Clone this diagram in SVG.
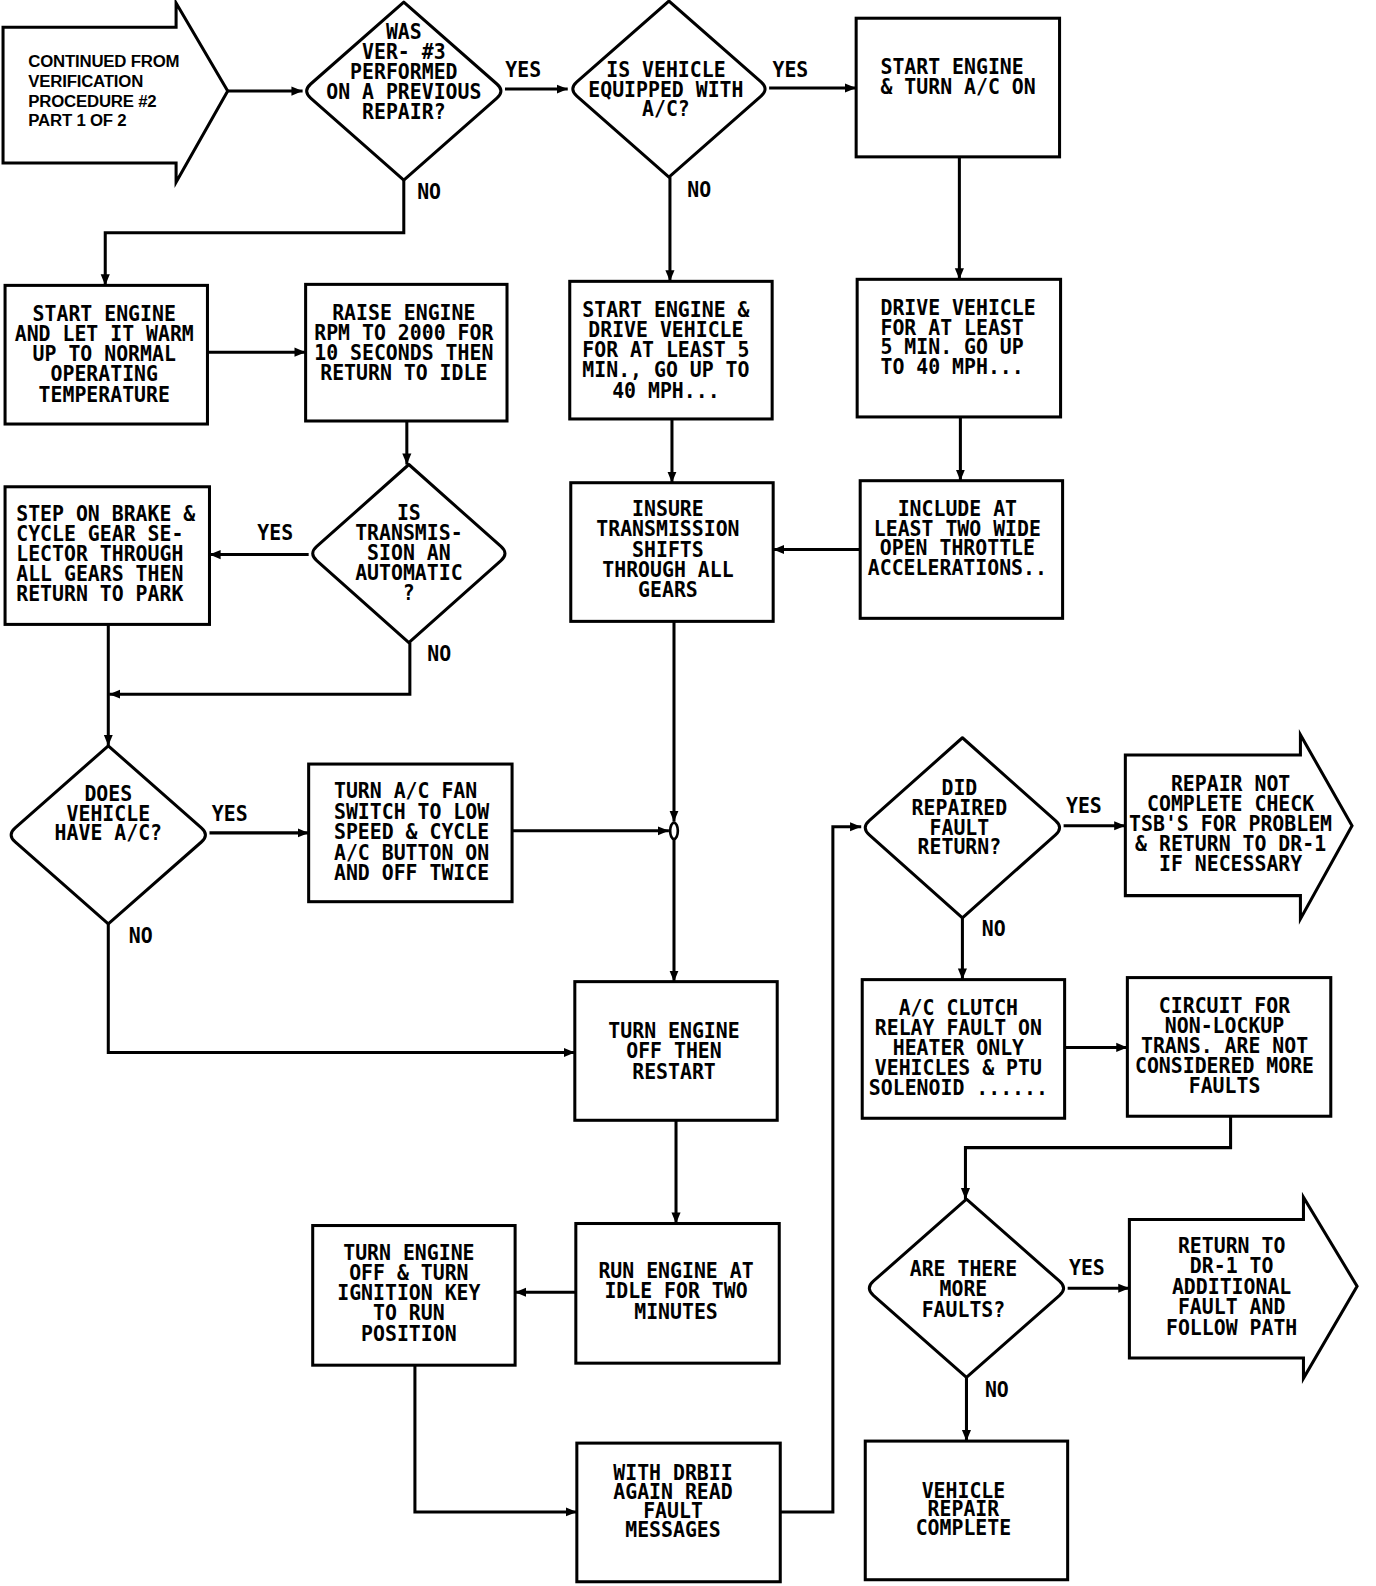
<svg xmlns="http://www.w3.org/2000/svg" width="1376" height="1586" viewBox="0 0 1376 1586">
<defs>
<style>
.box{fill:#fff;stroke:#000;stroke-width:3;stroke-linejoin:miter}
.dia{fill:#fff;stroke:#000;stroke-width:3;stroke-linejoin:round}
.ln{fill:none;stroke:#000;stroke-width:3;marker-end:url(#ah)}
.t{font-family:"DejaVu Sans Mono","Liberation Mono",monospace;font-size:19.6px;font-weight:bold;fill:#000}
.m{text-anchor:middle}
.s{font-family:"Liberation Sans",Arial,sans-serif;font-size:16.6px;font-weight:bold;fill:#000;letter-spacing:-0.2px}
</style>
<marker id="ah" markerUnits="userSpaceOnUse" markerWidth="12" markerHeight="10" refX="11" refY="5" orient="auto">
<path d="M0,0.5 L11,5 L0,9.5 Z" fill="#000"/>
</marker>
</defs>
<rect width="1376" height="1586" fill="#fff"/>
<g transform="scale(1.012)">

<g id="connectors">
<path class="ln" d="M225,90 H299"/>
<path class="ln" d="M499,88 H561"/>
<path class="ln" d="M760,87 H846"/>
<path class="ln" d="M948,155 V276"/>
<path class="ln" d="M949,412 V475"/>
<path class="ln" d="M850,543 H764"/>
<path class="ln" d="M662,175 V278"/>
<path class="ln" d="M664,414 V477"/>
<path class="ln" d="M666,614 V812"/>
<path class="ln" d="M666,830 V970"/>
<path class="ln" d="M506,821 H661"/>
<path class="ln" d="M399,178 V230 H104 V282"/>
<path class="ln" d="M205,348 H302"/>
<path class="ln" d="M402,416 V459"/>
<path class="ln" d="M305,548 H207"/>
<path class="ln" d="M405,635 V686 H108"/>
<path class="ln" d="M107,617 V737"/>
<path class="ln" d="M207,823 H305"/>
<path class="ln" d="M107,913 V1040 H568"/>
<path class="ln" d="M668,1107 V1209"/>
<path class="ln" d="M569,1277 H509"/>
<path class="ln" d="M410,1349 V1494 H570"/>
<path class="ln" d="M771,1494 H823 V817 H851"/>
<path class="ln" d="M1051,816 H1112"/>
<path class="ln" d="M951,907 V968"/>
<path class="ln" d="M1052,1035 H1114"/>
<path class="ln" d="M1216,1103 V1134 H954 V1185"/>
<path class="ln" d="M1055,1273 H1116"/>
<path class="ln" d="M955,1361 V1424"/>
<ellipse cx="666" cy="821" rx="3.8" ry="8" fill="#fff" stroke="#000" stroke-width="2.6"/>
<g transform="translate(517,75.9) scale(1,1.1)"><text class="t m">YES</text></g>
<g transform="translate(781,75.9) scale(1,1.1)"><text class="t m">YES</text></g>
<g transform="translate(424,196.9) scale(1,1.1)"><text class="t m">NO</text></g>
<g transform="translate(691,194.9) scale(1,1.1)"><text class="t m">NO</text></g>
<g transform="translate(272,533.9) scale(1,1.1)"><text class="t m">YES</text></g>
<g transform="translate(434,652.9) scale(1,1.1)"><text class="t m">NO</text></g>
<g transform="translate(227,810.9) scale(1,1.1)"><text class="t m">YES</text></g>
<g transform="translate(139,931.9) scale(1,1.1)"><text class="t m">NO</text></g>
<g transform="translate(1071,802.9) scale(1,1.1)"><text class="t m">YES</text></g>
<g transform="translate(982,924.9) scale(1,1.1)"><text class="t m">NO</text></g>
<g transform="translate(1074,1259.9) scale(1,1.1)"><text class="t m">YES</text></g>
<g transform="translate(985,1380.9) scale(1,1.1)"><text class="t m">NO</text></g>
</g>

<g id="start">
<path class="box" d="M3,27 H174 V3 L225,90 L174,180 V161 H3 Z"/>
<text class="s" x="28" y="66">CONTINUED FROM</text>
<text class="s" x="28" y="86">VERIFICATION</text>
<text class="s" x="28" y="106">PROCEDURE #2</text>
<text class="s" x="28" y="125">PART 1 OF 2</text>
</g>

<g id="d1">
<path class="dia" d="M399,2 L491,83 Q499,90 491,97 L399,178 L307,97 Q299,90 307,83 Z"/>
<text class="t m" transform="translate(399,38.9) scale(1,1.1)"><tspan x="0" y="0">WAS</tspan><tspan x="0" y="17.8">VER- #3</tspan><tspan x="0" y="35.6">PERFORMED</tspan><tspan x="0" y="53.4">ON A PREVIOUS</tspan><tspan x="0" y="71.2">REPAIR?</tspan></text>
</g>

<g id="d2">
<path class="dia" d="M661,1 L752,81 Q760,88 752,95 L661,175 L570,95 Q562,88 570,81 Z"/>
<text class="t m" transform="translate(658,75.9) scale(1,1.1)"><tspan x="0" y="0">IS VEHICLE</tspan><tspan x="0" y="17.7">EQUIPPED WITH</tspan><tspan x="0" y="35.5">A/C?</tspan></text>
</g>

<g id="b3">
<rect class="box" x="846" y="18" width="201" height="137"/>
<text class="t" transform="translate(870,72.9) scale(1,1.1)"><tspan x="0" y="0">START ENGINE</tspan><tspan x="0" y="18.2">&amp; TURN A/C ON</tspan></text>
</g>

<g id="b4">
<rect class="box" x="5" y="282" width="200" height="137"/>
<text class="t m" transform="translate(103,316.9) scale(1,1.1)"><tspan x="0" y="0">START ENGINE</tspan><tspan x="0" y="18.2">AND LET IT WARM</tspan><tspan x="0" y="36.4">UP TO NORMAL</tspan><tspan x="0" y="54.5">OPERATING</tspan><tspan x="0" y="72.7">TEMPERATURE</tspan></text>
</g>

<g id="b5">
<rect class="box" x="302" y="281" width="199" height="135"/>
<text class="t m" transform="translate(399,315.9) scale(1,1.1)"><tspan x="0" y="0">RAISE ENGINE</tspan><tspan x="0" y="18.2">RPM TO 2000 FOR</tspan><tspan x="0" y="36.4">10 SECONDS THEN</tspan><tspan x="0" y="54.5">RETURN TO IDLE</tspan></text>
</g>

<g id="b-sedv">
<rect class="box" x="563" y="278" width="200" height="136"/>
<text class="t m" transform="translate(658,312.9) scale(1,1.1)"><tspan x="0" y="0">START ENGINE &amp;</tspan><tspan x="0" y="18.2">DRIVE VEHICLE</tspan><tspan x="0" y="36.4">FOR AT LEAST 5</tspan><tspan x="0" y="54.5">MIN., GO UP TO</tspan><tspan x="0" y="72.7">40 MPH...</tspan></text>
</g>

<g id="b-drive">
<rect class="box" x="847" y="276" width="201" height="136"/>
<text class="t" transform="translate(870,310.9) scale(1,1.1)"><tspan x="0" y="0">DRIVE VEHICLE</tspan><tspan x="0" y="17.9">FOR AT LEAST</tspan><tspan x="0" y="35.8">5 MIN. GO UP</tspan><tspan x="0" y="53.7">TO 40 MPH...</tspan></text>
</g>

<g id="b-include">
<rect class="box" x="850" y="475" width="200" height="136"/>
<text class="t m" transform="translate(946,509.9) scale(1,1.1)"><tspan x="0" y="0">INCLUDE AT</tspan><tspan x="0" y="17.5">LEAST TWO WIDE</tspan><tspan x="0" y="35.1">OPEN THROTTLE</tspan><tspan x="0" y="52.6">ACCELERATIONS..</tspan></text>
</g>

<g id="b-insure">
<rect class="box" x="564" y="477" width="200" height="137"/>
<text class="t m" transform="translate(660,509.9) scale(1,1.1)"><tspan x="0" y="0">INSURE</tspan><tspan x="0" y="18.2">TRANSMISSION</tspan><tspan x="0" y="36.4">SHIFTS</tspan><tspan x="0" y="54.5">THROUGH ALL</tspan><tspan x="0" y="72.7">GEARS</tspan></text>
</g>

<g id="d3">
<path class="dia" d="M404,459 L495,540 Q503,547 495,554 L404,635 L313,554 Q305,547 313,540 Z"/>
<text class="t m" transform="translate(404,513.9) scale(1,1.1)"><tspan x="0" y="0">IS</tspan><tspan x="0" y="17.9">TRANSMIS-</tspan><tspan x="0" y="35.8">SION AN</tspan><tspan x="0" y="53.7">AUTOMATIC</tspan><tspan x="0" y="71.6">?</tspan></text>
</g>

<g id="b6">
<rect class="box" x="5" y="481" width="202" height="136"/>
<text class="t" transform="translate(16,514.9) scale(1,1.1)"><tspan x="0" y="0">STEP ON BRAKE &amp;</tspan><tspan x="0" y="18">CYCLE GEAR SE-</tspan><tspan x="0" y="36">LECTOR THROUGH</tspan><tspan x="0" y="54">ALL GEARS THEN</tspan><tspan x="0" y="72">RETURN TO PARK</tspan></text>
</g>

<g id="d4">
<path class="dia" d="M107,737 L199,818 Q207,825 199,832 L107,913 L15,832 Q7,825 15,818 Z"/>
<text class="t m" transform="translate(107,791.9) scale(1,1.1)"><tspan x="0" y="0">DOES</tspan><tspan x="0" y="17.3">VEHICLE</tspan><tspan x="0" y="34.5">HAVE A/C?</tspan></text>
</g>

<g id="b7">
<rect class="box" x="305" y="755" width="201" height="136"/>
<text class="t" transform="translate(330,788.9) scale(1,1.1)"><tspan x="0" y="0">TURN A/C FAN</tspan><tspan x="0" y="18.4">SWITCH TO LOW</tspan><tspan x="0" y="36.7">SPEED &amp; CYCLE</tspan><tspan x="0" y="55.1">A/C BUTTON ON</tspan><tspan x="0" y="73.5">AND OFF TWICE</tspan></text>
</g>

<g id="b8">
<rect class="box" x="568" y="970" width="200" height="137"/>
<text class="t m" transform="translate(666,1025.9) scale(1,1.1)"><tspan x="0" y="0">TURN ENGINE</tspan><tspan x="0" y="18.2">OFF THEN</tspan><tspan x="0" y="36.4">RESTART</tspan></text>
</g>

<g id="b9">
<rect class="box" x="569" y="1209" width="201" height="138"/>
<text class="t m" transform="translate(668,1262.9) scale(1,1.1)"><tspan x="0" y="0">RUN ENGINE AT</tspan><tspan x="0" y="18.2">IDLE FOR TWO</tspan><tspan x="0" y="36.4">MINUTES</tspan></text>
</g>

<g id="b10">
<rect class="box" x="309" y="1211" width="200" height="138"/>
<text class="t m" transform="translate(404,1244.9) scale(1,1.1)"><tspan x="0" y="0">TURN ENGINE</tspan><tspan x="0" y="18.2">OFF &amp; TURN</tspan><tspan x="0" y="36.4">IGNITION KEY</tspan><tspan x="0" y="54.5">TO RUN</tspan><tspan x="0" y="72.7">POSITION</tspan></text>
</g>

<g id="b11">
<rect class="box" x="570" y="1426" width="201" height="137"/>
<text class="t m" transform="translate(665,1462.9) scale(1,1.1)"><tspan x="0" y="0">WITH DRBII</tspan><tspan x="0" y="17">AGAIN READ</tspan><tspan x="0" y="34">FAULT</tspan><tspan x="0" y="51">MESSAGES</tspan></text>
</g>

<g id="d5">
<path class="dia" d="M951,729 L1043,811 Q1051,818 1043,825 L951,907 L859,825 Q851,818 859,811 Z"/>
<text class="t m" transform="translate(948,785.9) scale(1,1.1)"><tspan x="0" y="0">DID</tspan><tspan x="0" y="17.6">REPAIRED</tspan><tspan x="0" y="35.3">FAULT</tspan><tspan x="0" y="52.9">RETURN?</tspan></text>
</g>

<g id="a2">
<path class="box" d="M1112,746 H1285 V726 L1336,816 L1285,908 V885 H1112 Z"/>
<text class="t m" transform="translate(1216,781.9) scale(1,1.1)"><tspan x="0" y="0">REPAIR NOT</tspan><tspan x="0" y="17.9">COMPLETE CHECK</tspan><tspan x="0" y="35.8">TSB'S FOR PROBLEM</tspan><tspan x="0" y="53.7">&amp; RETURN TO DR-1</tspan><tspan x="0" y="71.6">IF NECESSARY</tspan></text>
</g>

<g id="b12">
<rect class="box" x="852" y="968" width="200" height="137"/>
<text class="t m" transform="translate(947,1002.9) scale(1,1.1)"><tspan x="0" y="0">A/C CLUTCH</tspan><tspan x="0" y="17.9">RELAY FAULT ON</tspan><tspan x="0" y="35.8">HEATER ONLY</tspan><tspan x="0" y="53.7">VEHICLES &amp; PTU</tspan><tspan x="0" y="71.6">SOLENOID ......</tspan></text>
</g>

<g id="b13">
<rect class="box" x="1114" y="966" width="201" height="137"/>
<text class="t m" transform="translate(1210,1000.9) scale(1,1.1)"><tspan x="0" y="0">CIRCUIT FOR</tspan><tspan x="0" y="18">NON-LOCKUP</tspan><tspan x="0" y="36">TRANS. ARE NOT</tspan><tspan x="0" y="54">CONSIDERED MORE</tspan><tspan x="0" y="72">FAULTS</tspan></text>
</g>

<g id="d6">
<path class="dia" d="M955,1185 L1047,1266 Q1055,1273 1047,1280 L955,1361 L863,1280 Q855,1273 863,1266 Z"/>
<text class="t m" transform="translate(952,1260.9) scale(1,1.1)"><tspan x="0" y="0">ARE THERE</tspan><tspan x="0" y="18.2">MORE</tspan><tspan x="0" y="36.4">FAULTS?</tspan></text>
</g>

<g id="a3">
<path class="box" d="M1116,1205 H1288 V1183 L1341,1271 L1288,1362 V1342 H1116 Z"/>
<text class="t m" transform="translate(1217,1237.9) scale(1,1.1)"><tspan x="0" y="0">RETURN TO</tspan><tspan x="0" y="18.4">DR-1 TO</tspan><tspan x="0" y="36.7">ADDITIONAL</tspan><tspan x="0" y="55.1">FAULT AND</tspan><tspan x="0" y="73.5">FOLLOW PATH</tspan></text>
</g>

<g id="b-complete">
<rect class="box" x="855" y="1424" width="200" height="137"/>
<text class="t m" transform="translate(952,1479.9) scale(1,1.1)"><tspan x="0" y="0">VEHICLE</tspan><tspan x="0" y="16.8">REPAIR</tspan><tspan x="0" y="33.6">COMPLETE</tspan></text>
</g>

</g>
</svg>
